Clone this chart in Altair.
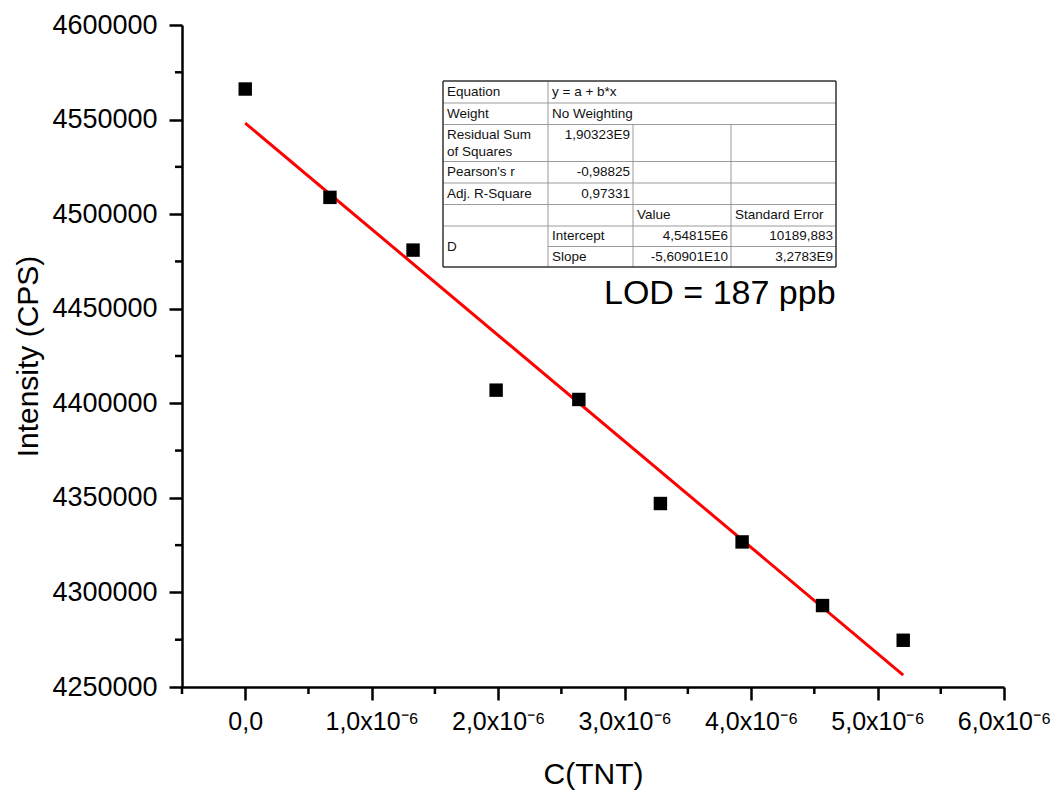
import json

import altair as alt
import pandas as pd

# ---- measured calibration data: TNT concentration vs. intensity ----
conc = [0.0, 0.670e-6, 1.327e-6, 1.984e-6, 2.638e-6, 3.283e-6, 3.929e-6, 4.565e-6, 5.203e-6]
intensity = [4566150, 4508870, 4480990, 4406940, 4402020, 4347010, 4326700, 4293060, 4274710]

# ---- linear fit y = a + b*x (values as reported in the fit table) ----
fit_intercept = 4.54815e6
fit_slope = -5.60901e10

# ---- axis ticks ----
y_major = list(range(4250000, 4600001, 50000))
y_minor = list(range(4275000, 4600000, 50000))
x_major = [0.0, 1e-6, 2e-6, 3e-6, 4e-6, 5e-6, 6e-6]
x_minor = [-0.5e-6, 0.5e-6, 1.5e-6, 2.5e-6, 3.5e-6, 4.5e-6, 5.5e-6]
x_labels = ["0,0", "1,0x10⁻⁶", "2,0x10⁻⁶", "3,0x10⁻⁶", "4,0x10⁻⁶", "5,0x10⁻⁶", "6,0x10⁻⁶"]

# ---- fit table contents ----
tbl_col1 = ["Equation", "Weight", "Residual Sum", "of Squares", "Pearson's r", "Adj. R-Square", "D"]
tbl_col2_left = ["y = a + b*x", "No Weighting", "Intercept", "Slope"]
tbl_col2_right = ["1,90323E9", "-0,98825", "0,97331"]
tbl_col3 = ["Value", "4,54815E6", "-5,60901E10"]
tbl_col4 = ["Standard Error", "10189,883", "3,2783E9"]
lod_label = "LOD = 187 ppb"

FONT = "Liberation Sans"

# ---- layout (pixels) ----
W, H = 822, 662
PAD_L, PAD_T = 182, 25
MAJOR_TICK, MINOR_TICK = 13, 7

# table grid, in plot-area pixel coordinates
tx = [443 - PAD_L, 548 - PAD_L, 633 - PAD_L, 731 - PAD_L, 836 - PAD_L]
ty = [y - PAD_T for y in [81, 103, 124.5, 161.5, 183, 204.5, 226, 246.5, 267]]


def ymid(a, b):
    return (ty[a] + ty[b]) / 2


xs = alt.Scale(domain=[-0.5e-6, 6e-6], nice=False, zero=False)
ys = alt.Scale(domain=[4250000, 4600000], nice=False, zero=False)

points_df = pd.DataFrame({"conc": conc, "intensity": intensity})
fit_x = [min(conc), max(conc)]
fit_df = pd.DataFrame({"conc": fit_x, "intensity": [fit_intercept + fit_slope * v for v in fit_x]})

label_expr = f"{json.dumps(x_labels, ensure_ascii=False)}[round(datum.value * 1e6)]"

x_axis = alt.Axis(
    values=x_major, labelExpr=label_expr, grid=False,
    tickSize=MAJOR_TICK, tickWidth=2.5, tickColor="black",
    domainWidth=2.5, domainColor="black",
    labelFont=FONT, labelFontSize=25, labelColor="black", labelPadding=9,
    labelFlush=False, labelOverlap=False,
    title="C(TNT)", titleFont=FONT, titleFontSize=30, titleFontWeight="normal",
    titleColor="black", titleBaseline="top", titleY=72,
)
y_axis = alt.Axis(
    values=y_major, format="d", grid=False,
    tickSize=MAJOR_TICK, tickWidth=2.5, tickColor="black",
    domainWidth=2.5, domainColor="black",
    labelFont=FONT, labelFontSize=27, labelColor="black", labelPadding=12,
    labelFlush=False, labelOverlap=False,
    title="Intensity (CPS)", titleFont=FONT, titleFontSize=30, titleFontWeight="normal",
    titleColor="black", titleBaseline="middle", titleX=-154, titleY=H / 2,
)

points = alt.Chart(points_df).mark_point(
    shape="square", filled=True, size=180, color="black", opacity=1
).encode(
    x=alt.X("conc:Q", scale=xs, axis=x_axis),
    y=alt.Y("intensity:Q", scale=ys, axis=y_axis),
)

fit_line = alt.Chart(fit_df).mark_line(color="#ff0000", strokeWidth=3).encode(
    x=alt.X("conc:Q", scale=xs),
    y=alt.Y("intensity:Q", scale=ys),
)

x_minor_ticks = alt.Chart(pd.DataFrame({"v": x_minor})).mark_rule(
    color="black", strokeWidth=2.5
).encode(
    x=alt.X("v:Q", scale=xs),
    y=alt.value(H), y2=alt.value(H + MINOR_TICK),
)
y_minor_ticks = alt.Chart(pd.DataFrame({"v": y_minor})).mark_rule(
    color="black", strokeWidth=2.5
).encode(
    y=alt.Y("v:Q", scale=ys),
    x=alt.value(-MINOR_TICK), x2=alt.value(0),
)

# ---- fit table: grid lines ----
inner_lines = []
for i in range(1, 8):
    x0 = tx[1] if i == 7 else tx[0]
    inner_lines.append({"x": x0, "x2": tx[4], "y": ty[i], "y2": ty[i]})
inner_lines.append({"x": tx[1], "x2": tx[1], "y": ty[0], "y2": ty[8]})
inner_lines.append({"x": tx[2], "x2": tx[2], "y": ty[2], "y2": ty[8]})
inner_lines.append({"x": tx[3], "x2": tx[3], "y": ty[2], "y2": ty[8]})
outer_lines = [
    {"x": tx[0], "x2": tx[4], "y": ty[0], "y2": ty[0]},
    {"x": tx[0], "x2": tx[4], "y": ty[8], "y2": ty[8]},
    {"x": tx[0], "x2": tx[0], "y": ty[0], "y2": ty[8]},
    {"x": tx[4], "x2": tx[4], "y": ty[0], "y2": ty[8]},
]


def grid_layer(rows, color, width):
    return alt.Chart(pd.DataFrame(rows)).mark_rule(color=color, strokeWidth=width).encode(
        x=alt.X("x:Q", scale=None), x2="x2:Q",
        y=alt.Y("y:Q", scale=None), y2="y2:Q",
    )


table_bg = alt.Chart(pd.DataFrame([{"x": tx[0], "x2": tx[4], "y": ty[0], "y2": ty[8]}])).mark_rect(
    color="white"
).encode(
    x=alt.X("x:Q", scale=None), x2="x2:Q",
    y=alt.Y("y:Q", scale=None), y2="y2:Q",
)

# ---- fit table: cell texts ----
cells = []
c1_rows = [ymid(0, 1), ymid(1, 2), ty[2] + 10, ty[2] + 27, ymid(3, 4), ymid(4, 5), ty[7]]
for t, y in zip(tbl_col1, c1_rows):
    cells.append({"t": t, "x": tx[0] + 4, "y": y, "a": "left"})
for t, y in zip(tbl_col2_left, [ymid(0, 1), ymid(1, 2), ymid(6, 7), ymid(7, 8)]):
    cells.append({"t": t, "x": tx[1] + 4, "y": y, "a": "left"})
for t, y in zip(tbl_col2_right, [ty[2] + 10, ymid(3, 4), ymid(4, 5)]):
    cells.append({"t": t, "x": tx[2] - 3, "y": y, "a": "right"})
cells.append({"t": tbl_col3[0], "x": tx[2] + 4, "y": ymid(5, 6), "a": "left"})
for t, y in zip(tbl_col3[1:], [ymid(6, 7), ymid(7, 8)]):
    cells.append({"t": t, "x": tx[3] - 3, "y": y, "a": "right"})
cells.append({"t": tbl_col4[0], "x": tx[3] + 4, "y": ymid(5, 6), "a": "left"})
for t, y in zip(tbl_col4[1:], [ymid(6, 7), ymid(7, 8)]):
    cells.append({"t": t, "x": tx[4] - 3, "y": y, "a": "right"})

cells_df = pd.DataFrame(cells)


def cell_text(align):
    return alt.Chart(cells_df[cells_df["a"] == align]).mark_text(
        align=align, baseline="middle", font=FONT, fontSize=13.5, color="#111111"
    ).encode(
        x=alt.X("x:Q", scale=None),
        y=alt.Y("y:Q", scale=None),
        text="t:N",
    )


lod_text = alt.Chart(pd.DataFrame({"t": [lod_label]})).mark_text(
    align="left", baseline="alphabetic", font=FONT, fontSize=34, color="black"
).encode(
    x=alt.value(604 - PAD_L), y=alt.value(304 - PAD_T), text="t:N"
)

chart = alt.layer(
    fit_line,
    points,
    x_minor_ticks,
    y_minor_ticks,
    table_bg,
    grid_layer(inner_lines, "#9a9a9a", 1),
    grid_layer(outer_lines, "#333333", 1.5),
    cell_text("left"),
    cell_text("right"),
    lod_text,
).properties(
    width=W, height=H,
    autosize=alt.AutoSizeParams(type="none"),
    padding={"left": PAD_L, "top": PAD_T, "right": 1057 - PAD_L - W, "bottom": 794 - PAD_T - H},
    background="white",
).configure_view(stroke=None)

chart.save("out.html", embed_options={"renderer": "svg", "actions": False})
